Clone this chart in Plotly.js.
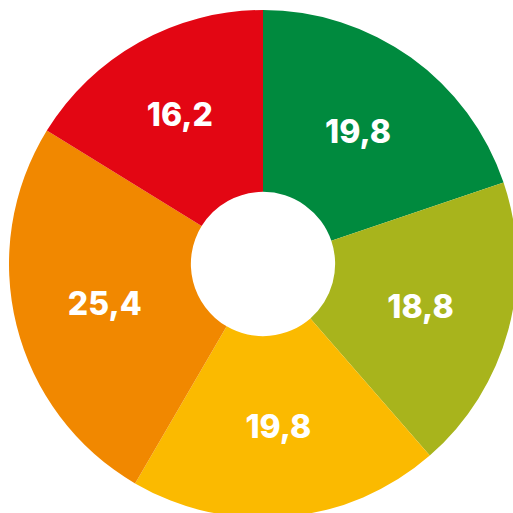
<!DOCTYPE html>
<html>
<head>
<meta charset="utf-8">
<script src="https://cdn.plot.ly/plotly-3.0.1.min.js"></script>
<style>
html,body{margin:0;padding:0;overflow:hidden;background:#fff;}
#chart{width:520px;height:520px;}
</style>
</head>
<body>
<div id="chart"></div>
<script>
var categories = ["A", "B", "C", "D", "E"];
var values = [19.8, 18.8, 19.8, 25.4, 16.2];
var colors = ["#008A3E", "#A8B41C", "#FBBA00", "#F18800", "#E30613"];

var data = [{
  type: "pie",
  labels: categories,
  values: values,
  sort: false,
  direction: "clockwise",
  rotation: 0,
  hole: 0.284,
  marker: {colors: colors, line: {width: 0}},
  textinfo: "value",
  textposition: "inside",
  insidetextorientation: "horizontal",
  textfont: {color: "#ffffff", size: 32, family: "Inter", weight: 800},
  showlegend: false,
  hoverinfo: "none"
}];

var layout = {
  width: 520,
  height: 520,
  margin: {l: 9, r: 3, t: 10, b: 2, pad: 0},
  paper_bgcolor: "#ffffff",
  separators: ",.",
  showlegend: false
};

Plotly.newPlot("chart", data, layout, {staticPlot: true, displayModeBar: false});
</script>
</body>
</html>
